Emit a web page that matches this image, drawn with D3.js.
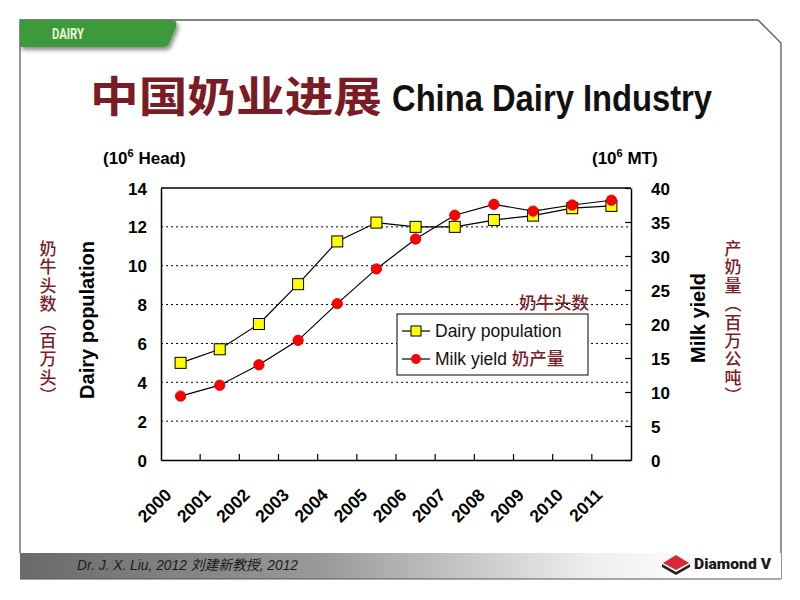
<!DOCTYPE html>
<html><head><meta charset="utf-8">
<script src="https://cdn.jsdelivr.net/npm/d3@7"></script>
<style>body{margin:0;background:#fff}svg{display:block}</style>
</head><body>
<script>
const years = ["2000","2001","2002","2003","2004","2005","2006","2007","2008","2009","2010","2011"];
const dairyPopulation = [5.0,5.7,7.0,9.05,11.25,12.22,12.0,12.0,12.35,12.58,12.96,13.08];
const milkYield = [9.4,11.0,14.0,17.6,23.0,28.1,32.5,36.0,37.6,36.6,37.5,38.2];
const leftTicks = [0,2,4,6,8,10,12,14];
const rightTicks = [0,5,10,15,20,25,30,35,40];

const W=800,H=600;
const svg=d3.select("body").append("svg").attr("width",W).attr("height",H);
const defs=svg.append("defs");
const g1=defs.append("linearGradient").attr("id","foot").attr("x1","0").attr("x2","1");
g1.append("stop").attr("offset","0").attr("stop-color","#6a6a6a");
g1.append("stop").attr("offset","0.4").attr("stop-color","#9a9a9a");
g1.append("stop").attr("offset","0.75").attr("stop-color","#eeeeee");
g1.append("stop").attr("offset","0.9").attr("stop-color","#ffffff");
const f=defs.append("filter").attr("id","sh").attr("x","-10%").attr("y","-20%").attr("width","130%").attr("height","160%");
f.append("feDropShadow").attr("dx",2).attr("dy",3).attr("stdDeviation",2).attr("flood-color","#000").attr("flood-opacity",0.45);

// slide frame
svg.append("path").attr("d","M20,553 L20,20 L758,20 L781,43 L781,579").attr("fill","none").attr("stroke","#5a5a5a").attr("stroke-width",1.3);
svg.append("rect").attr("x",20).attr("y",553).attr("width",761).attr("height",26).attr("fill","url(#foot)");
svg.append("line").attr("x1",20).attr("x2",781).attr("y1",579).attr("y2",579).attr("stroke","#555").attr("stroke-width",1);
svg.append("path").attr("d","M20,20 L173,20 Q178,21 176,27 L169,44 Q167,47 163,47 L20,47 Z").attr("fill","#3e9a3a").attr("filter","url(#sh)");
svg.append("text").attr("x",52).attr("y",38.5).text("DAIRY").attr("fill","#eaf6d8").attr("font-family","Roboto, sans-serif").attr("font-weight","bold").attr("font-size",14).attr("textLength",32).attr("lengthAdjust","spacingAndGlyphs");

// footer
svg.append("text").attr("x",77).attr("y",570).attr("font-family","Liberation Sans, Arial, Noto Sans CJK SC, sans-serif").attr("font-style","italic").attr("font-size",14).attr("fill","#1a1a1a")
  .attr("textLength",221).attr("lengthAdjust","spacingAndGlyphs").text("Dr. J. X. Liu, 2012  刘建新教授, 2012");
svg.append("path").attr("d","M676,555 L689,563 L676,570 L663,563 Z").attr("fill","#d42a35");
svg.append("path").attr("d","M662,564 L676,572 L690,564 L690,567 L676,575 L662,567 Z").attr("fill","#222");
svg.append("text").attr("x",694).attr("y",569).text("Diamond V").attr("font-family","Roboto, sans-serif").attr("font-weight","900").attr("font-size",14.5).attr("fill","#1a1a1a").attr("textLength",77).attr("lengthAdjust","spacingAndGlyphs");

// title
svg.append("text").attr("x",90).attr("y",112).text("中国奶业进展").attr("font-family","Noto Sans CJK SC").attr("font-weight","bold").attr("font-size",42).attr("fill","#7a1c26").attr("textLength",292).attr("lengthAdjust","spacingAndGlyphs");
svg.append("text").attr("x",392).attr("y",111).text("China Dairy Industry").attr("font-family","Liberation Sans Narrow, Arial Narrow, sans-serif").attr("font-weight","bold").attr("font-size",36).attr("fill","#111").attr("textLength",320).attr("lengthAdjust","spacingAndGlyphs");

// chart
const L=161,R=631,T=188,B=460;
const x=d3.scaleBand().domain(years).range([L,R]);
const yL=d3.scaleLinear().domain([0,14]).range([B,T]);
const yR=d3.scaleLinear().domain([0,40]).range([B,T]);
const bold="Arial, Liberation Sans, sans-serif";

// gridlines
svg.append("g").selectAll("line").data(leftTicks.filter(d=>d>0&&d<14)).join("line")
  .attr("x1",L).attr("x2",R).attr("y1",d=>yL(d)).attr("y2",d=>yL(d))
  .attr("stroke","#000").attr("stroke-width",1).attr("stroke-dasharray","2,3");

// left axis
const ax=svg.append("g").attr("transform",`translate(${L},0)`).call(d3.axisLeft(yL).tickValues(leftTicks).tickSize(0).tickPadding(14).tickFormat(d3.format("d")));
ax.select(".domain").attr("stroke","#000").attr("stroke-width",1.5);
ax.selectAll("text").attr("font-family",bold).attr("font-weight","bold").attr("font-size",17).attr("fill","#000").attr("dy","0.36em");
// right axis (ticks inward)
const axr=svg.append("g").attr("transform",`translate(${R},0)`).call(d3.axisRight(yR).tickValues(rightTicks).tickSizeInner(-6).tickSizeOuter(0).tickPadding(20).tickFormat(d3.format("d")));
axr.select(".domain").attr("stroke","#000").attr("stroke-width",1.5);
axr.selectAll("line").attr("stroke","#000").attr("stroke-width",1.2);
axr.selectAll("text").attr("font-family",bold).attr("font-weight","bold").attr("font-size",17).attr("fill","#000").attr("dy","0.36em");
// top border
svg.append("line").attr("x1",L).attr("x2",R).attr("y1",T).attr("y2",T).attr("stroke","#000").attr("stroke-width",1.5);
// bottom axis
const axb=svg.append("g").attr("transform",`translate(0,${B})`).call(d3.axisBottom(x).tickSize(0).tickFormat(""));
axb.select(".domain").attr("stroke","#000").attr("stroke-width",1.5);
svg.append("g").selectAll("line").data(years.slice(1)).join("line")
  .attr("x1",d=>x(d)).attr("x2",d=>x(d)).attr("y1",B).attr("y2",B-6).attr("stroke","#000").attr("stroke-width",1.2);
svg.append("g").selectAll("text").data(years).join("text")
  .attr("transform",d=>`translate(${x(d)+x.bandwidth()/2-8},${B+36}) rotate(-45)`)
  .attr("text-anchor","end").attr("font-family",bold).attr("font-weight","bold").attr("font-size",17.5).text(d=>d);

// lines
const cx=d=>x(d)+x.bandwidth()/2;
svg.append("path").datum(years).attr("fill","none").attr("stroke","#000").attr("stroke-width",1.2)
  .attr("d",d3.line().x(d=>cx(d)).y((d,i)=>yL(dairyPopulation[i])));
svg.append("path").datum(years).attr("fill","none").attr("stroke","#000").attr("stroke-width",1.2)
  .attr("d",d3.line().x(d=>cx(d)).y((d,i)=>yR(milkYield[i])));
svg.append("g").selectAll("rect").data(years).join("rect")
  .attr("x",d=>cx(d)-5.5).attr("y",(d,i)=>yL(dairyPopulation[i])-5.5).attr("width",11).attr("height",11)
  .attr("fill","#ffff00").attr("stroke","#000").attr("stroke-width",1);
svg.append("g").selectAll("circle").data(years).join("circle")
  .attr("cx",d=>cx(d)).attr("cy",(d,i)=>yR(milkYield[i])).attr("r",5.2).attr("fill","#ff0000").attr("stroke","#d00000").attr("stroke-width",0.8);

// axis titles
svg.append("text").attr("x",103).attr("y",164).attr("font-family",bold).attr("font-weight","bold").attr("font-size",17)
  .html('(10<tspan dy="-7" font-size="11">6</tspan><tspan dy="7"> Head)</tspan>');
svg.append("text").attr("x",592).attr("y",164).attr("font-family",bold).attr("font-weight","bold").attr("font-size",17)
  .html('(10<tspan dy="-7" font-size="11">6</tspan><tspan dy="7"> MT)</tspan>');
svg.append("text").attr("transform","translate(94,320) rotate(-90)").attr("text-anchor","middle").attr("font-family",bold).attr("font-weight","bold").attr("font-size",20).text("Dairy population");
svg.append("text").attr("transform","translate(705,318) rotate(-90)").attr("text-anchor","middle").attr("font-family",bold).attr("font-weight","bold").attr("font-size",20).text("Milk yield");

const red="#7a1c2a";
svg.append("text").attr("x",48).attr("y",240).style("writing-mode","vertical-rl").attr("font-family","Noto Sans CJK SC").attr("font-weight",500)
  .attr("font-size",17).attr("letter-spacing",1.4).attr("fill",red).text("奶牛头数（百万头）");
svg.append("text").attr("x",733).attr("y",240).style("writing-mode","vertical-rl").attr("font-family","Noto Sans CJK SC").attr("font-weight",500)
  .attr("font-size",17).attr("letter-spacing",1.4).attr("fill",red).text("产奶量（百万公吨）");

svg.append("text").attr("x",519).attr("y",309).attr("font-family","Noto Sans CJK SC").attr("font-weight",500).attr("font-size",17.5).attr("fill",red).text("奶牛头数");

// legend
const lg=svg.append("g");
lg.append("rect").attr("x",397).attr("y",314).attr("width",191).attr("height",61).attr("fill","#fff").attr("stroke","#000").attr("stroke-width",1);
lg.append("line").attr("x1",402).attr("x2",430).attr("y1",331).attr("y2",331).attr("stroke","#000").attr("stroke-width",1.2);
lg.append("rect").attr("x",411).attr("y",326).attr("width",10).attr("height",10).attr("fill","#ffff00").attr("stroke","#000");
lg.append("line").attr("x1",402).attr("x2",430).attr("y1",359).attr("y2",359).attr("stroke","#000").attr("stroke-width",1.2);
lg.append("circle").attr("cx",416).attr("cy",359).attr("r",5).attr("fill","#ff0000");
lg.append("text").attr("x",435).attr("y",337).attr("font-family",bold).attr("font-size",17.5).attr("fill","#111").text("Dairy population");
const t2=lg.append("text").attr("x",435).attr("y",365).attr("font-family",bold).attr("font-size",17.5).attr("fill","#111");
t2.append("tspan").text("Milk yield ");
t2.append("tspan").attr("font-family","Noto Sans CJK SC").attr("font-weight",500).attr("fill",red).text("奶产量");
</script>
</body></html>
